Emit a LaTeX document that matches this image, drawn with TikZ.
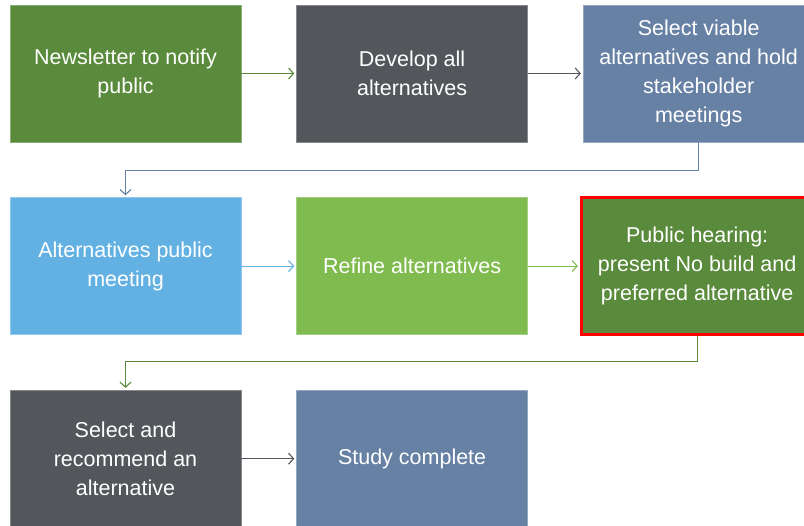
\documentclass[tikz,border=0pt]{standalone}
\usepackage{fontspec}
\setmainfont{Liberation Sans}
\usetikzlibrary{positioning, arrows.meta}
\definecolor{stepgreen}{RGB}{90,138,59}
\definecolor{stepgrey}{RGB}{83,87,91}
\definecolor{stepslate}{RGB}{103,129,165}
\definecolor{stepsky}{RGB}{99,177,227}
\definecolor{steplime}{RGB}{128,187,80}
\definecolor{hearingred}{RGB}{255,0,0}
\tikzset{
  stepbox/.style={rectangle, fill=#1, draw=#1!70!white, line width=0.6pt,
    minimum width=231pt, minimum height=137pt, inner sep=0pt,
    text=white, align=center, font=\fontsize{21.5}{29}\selectfont},
  link/.style={-{Straight Barb[length=5pt, width=11pt]}, draw=#1, line width=1.1pt, shorten >=2pt}
}
\begin{document}
\begin{tikzpicture}[x=1pt, y=-1pt, node distance=55pt]
    \useasboundingbox (0,0) rectangle (804,526);
    \clip (0,0) rectangle (804,526);
    \node[stepbox=stepgreen] (news) at (125.5,73.5) {Newsletter to notify\\public};
    \node[stepbox=stepgrey] (develop) [right=of news] {Develop all\\alternatives};
    \node[stepbox=stepslate] (viable) [right=of develop] {Select viable\\alternatives and hold\\stakeholder\\meetings};
    \node[stepbox=stepsky] (altmeet) [below=of news] {Alternatives public\\meeting};
    \node[stepbox=steplime] (refine) [right=of altmeet] {Refine alternatives};
    \node[stepbox=stepgreen, draw=hearingred, line width=3.5pt] (hearing) [right=52pt of refine] {Public hearing:\\present No build and\\preferred alternative};
    \node[stepbox=stepgrey] (recommend) [below=of altmeet] {Select and\\recommend an\\alternative};
    \node[stepbox=stepslate] (complete) [right=of recommend] {Study complete};
    \draw[link=stepgreen] (news) -- (develop);
    \draw[link=stepgrey] (develop) -- (viable);
    \draw[link=stepslate] (viable.south) -- ++(0,28) -| (altmeet.north);
    \draw[link=stepsky] (altmeet) -- (refine);
    \draw[link=steplime] (refine) -- (hearing);
    \draw[link=stepgreen] (hearing.south) -- ++(0,25) -| (recommend.north);
    \draw[link=stepgrey] (recommend) -- (complete);
\end{tikzpicture}
\end{document}
